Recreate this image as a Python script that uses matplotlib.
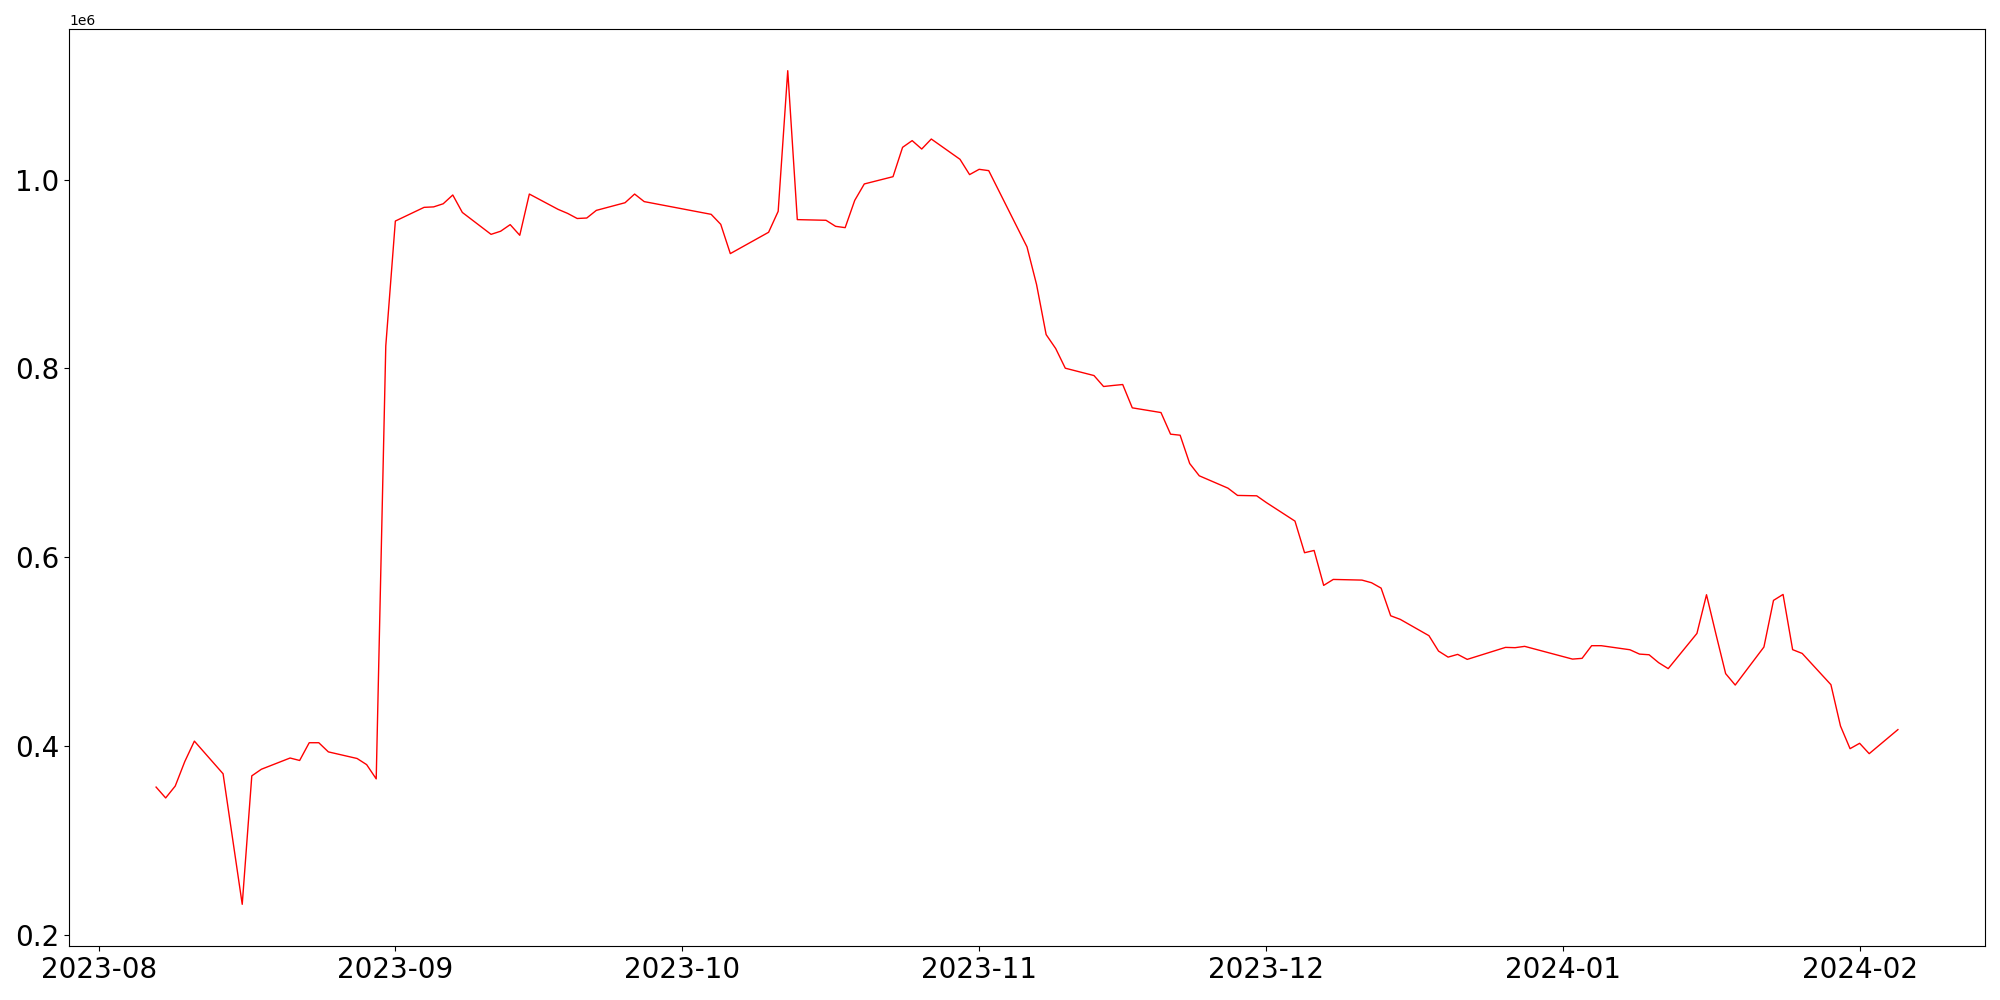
import matplotlib
matplotlib.use("Agg")
import matplotlib.pyplot as plt
import pandas as pd

# trading days (in units of 1e6)
dates = [
    "2023-08-07", "2023-08-08", "2023-08-09", "2023-08-10", "2023-08-11",
    "2023-08-14", "2023-08-16", "2023-08-17", "2023-08-18",
    "2023-08-21", "2023-08-22", "2023-08-23", "2023-08-24", "2023-08-25",
    "2023-08-28", "2023-08-29", "2023-08-30", "2023-08-31", "2023-09-01",
    "2023-09-04", "2023-09-05", "2023-09-06", "2023-09-07", "2023-09-08",
    "2023-09-11", "2023-09-12", "2023-09-13", "2023-09-14", "2023-09-15",
    "2023-09-18", "2023-09-19", "2023-09-20", "2023-09-21", "2023-09-22",
    "2023-09-25", "2023-09-26", "2023-09-27",
    "2023-10-04", "2023-10-05", "2023-10-06",
    "2023-10-10", "2023-10-11", "2023-10-12", "2023-10-13",
    "2023-10-16", "2023-10-17", "2023-10-18", "2023-10-19", "2023-10-20",
    "2023-10-23", "2023-10-24", "2023-10-25", "2023-10-26", "2023-10-27",
    "2023-10-30", "2023-10-31", "2023-11-01", "2023-11-02",
    "2023-11-06", "2023-11-07", "2023-11-08", "2023-11-09", "2023-11-10",
    "2023-11-13", "2023-11-14", "2023-11-15", "2023-11-16", "2023-11-17",
    "2023-11-20", "2023-11-21", "2023-11-22", "2023-11-23", "2023-11-24",
    "2023-11-27", "2023-11-28", "2023-11-29", "2023-11-30", "2023-12-01",
    "2023-12-04", "2023-12-05", "2023-12-06", "2023-12-07", "2023-12-08",
    "2023-12-11", "2023-12-12", "2023-12-13", "2023-12-14", "2023-12-15",
    "2023-12-18", "2023-12-19", "2023-12-20", "2023-12-21", "2023-12-22",
    "2023-12-26", "2023-12-27", "2023-12-28",
    "2024-01-02", "2024-01-03", "2024-01-04", "2024-01-05",
    "2024-01-08", "2024-01-09", "2024-01-10", "2024-01-11", "2024-01-12",
    "2024-01-15", "2024-01-16", "2024-01-17", "2024-01-18", "2024-01-19",
    "2024-01-22", "2024-01-23", "2024-01-24", "2024-01-25", "2024-01-26",
    "2024-01-29", "2024-01-30", "2024-01-31", "2024-02-01", "2024-02-02",
    "2024-02-05",
]

values = [
    0.3565, 0.345, 0.3576, 0.3836, 0.4052,
    0.3706, 0.2323, 0.3684, 0.3754,
    0.3873, 0.3847, 0.4035, 0.4035, 0.3938,
    0.3868, 0.3803, 0.3652, 0.8239, 0.9562,
    0.9707, 0.9712, 0.9745, 0.9838, 0.9653,
    0.9421, 0.9454, 0.9524, 0.9411, 0.9848,
    0.9686, 0.9643, 0.9589, 0.9594, 0.9675,
    0.9756, 0.9848, 0.9768,
    0.9633, 0.9527, 0.9217,
    0.9443, 0.9665, 1.1155, 0.9577,
    0.957, 0.9506, 0.9492, 0.9781, 0.9955,
    1.0032, 1.0343, 1.0414, 1.0325, 1.0431,
    1.0216, 1.0054, 1.011, 1.0096,
    0.9288, 0.8889, 0.8359, 0.8211, 0.8003,
    0.7925, 0.7809, 0.782, 0.783, 0.7583,
    0.7533, 0.7304, 0.7293, 0.6993, 0.6863,
    0.6732, 0.6655, 0.6653, 0.6651, 0.658,
    0.6383, 0.6048, 0.6072, 0.5702, 0.5765,
    0.5758, 0.573, 0.5673, 0.538, 0.5342,
    0.5169, 0.5006, 0.4942, 0.4971, 0.4918,
    0.5045, 0.5042, 0.5056,
    0.4921, 0.4929, 0.5063, 0.5063,
    0.502, 0.4974, 0.4967, 0.4883, 0.482,
    0.5193, 0.5603, 0.518, 0.4767, 0.4646,
    0.5049, 0.5543, 0.5606, 0.5021, 0.4981,
    0.465, 0.4212, 0.3972, 0.4029, 0.3919,
    0.4174,
]

x = pd.to_datetime(dates)
y = [v * 1e6 for v in values]

fig, ax = plt.subplots(figsize=(20, 10), dpi=100)
ax.plot(x, y, color="red", linewidth=1)
plt.xticks(fontsize=20)
plt.yticks(fontsize=20)
fig.subplots_adjust(left=0.0345, right=0.9925, top=0.971, bottom=0.054)
fig.savefig("out.png")
